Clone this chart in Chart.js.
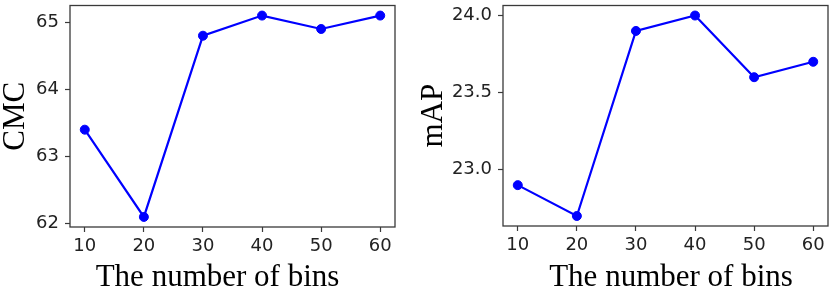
<!DOCTYPE html>
<html>
<head>
<meta charset="utf-8">
<script src="https://cdn.jsdelivr.net/npm/chart.js@4"></script>
<style>
  html, body { margin: 0; padding: 0; background: #fff; overflow: hidden; width: 832px; height: 295px; }
  canvas { position: absolute; top: 0; }
  #cmcChart { left: 0; }
  #mapChart { left: 418px; }
</style>
</head>
<body>
<canvas id="cmcChart" width="435" height="295"></canvas>
<canvas id="mapChart" width="506" height="295"></canvas>
<script>
const bins = [10, 20, 30, 40, 50, 60];
const cmcValues = [63.4, 62.1, 64.8, 65.1, 64.9, 65.1];
const mapValues = [22.9, 22.7, 23.9, 24.0, 23.6, 23.7];
const cmcTicks = [62, 63, 64, 65];
const mapTicks = [23.0, 23.5, 24.0];
const xLabel = 'The number of bins';

// draws the matplotlib style box round the plot area
const framePlugin = {
  id: 'frame',
  afterDraw(chart) {
    const a = chart.chartArea;
    const ctx = chart.ctx;
    ctx.save();
    ctx.strokeStyle = '#3a3a3a';
    ctx.lineWidth = 1.3;
    ctx.strokeRect(a.left, a.top, a.right - a.left, a.bottom - a.top);
    ctx.restore();
  }
};

function makeChart(id, values, yTicks, yTitle, cfg) {
  const ctx = document.getElementById(id).getContext('2d');
  return new Chart(ctx, {
    type: 'line',
    data: {
      datasets: [{
        data: bins.map((b, i) => ({ x: b, y: values[i] })),
        borderColor: '#0000ff',
        backgroundColor: '#0000ff',
        borderWidth: 2.2,
        pointRadius: 4.5,
        pointBorderWidth: 1,
        pointHoverRadius: 4.5,
        tension: 0,
        clip: false
      }]
    },
    options: {
      responsive: false,
      animation: false,
      layout: { padding: { top: 5, left: 0, right: 0, bottom: 0 } },
      plugins: {
        legend: { display: false },
        tooltip: { enabled: false },
        title: {
          display: true,
          position: 'bottom',
          text: xLabel,
          color: '#000',
          font: { family: 'Liberation Serif', size: 31, weight: 'normal', lineHeight: 1 },
          padding: { top: 0, bottom: 2 }
        }
      },
      scales: {
        x: {
          type: 'linear',
          min: 7.5,
          max: 62.5,
          afterBuildTicks: s => { s.ticks = bins.map(v => ({ value: v })); },
          afterFit: s => { s.height = cfg.xHeight; s.paddingLeft = 0; s.paddingRight = 0; },
          grid: { drawOnChartArea: false, tickLength: 5, color: '#3a3a3a', tickWidth: 1.2 },
          border: { display: false },
          ticks: {
            color: '#222',
            padding: 4,
            maxRotation: 0,
            font: { family: 'DejaVu Sans', size: 18 }
          }
        },
        y: {
          type: 'linear',
          min: cfg.min,
          max: cfg.max,
          afterBuildTicks: s => { s.ticks = yTicks.map(v => ({ value: v })); },
          afterFit: s => { s.width = cfg.yWidth; s.paddingTop = 0; s.paddingBottom = 0; },
          grid: { drawOnChartArea: false, tickLength: 5, color: '#3a3a3a', tickWidth: 1.2 },
          border: { display: false },
          ticks: {
            color: '#222',
            padding: 6,
            font: { family: 'DejaVu Sans', size: 18 },
            callback: v => cfg.fmt(v)
          },
          title: {
            display: true,
            text: yTitle,
            color: '#000',
            font: { family: 'Liberation Serif', size: 31, weight: 'normal', lineHeight: 1 },
            padding: 0
          }
        },
        // empty right axis, only keeps the gap to the canvas edge
        y2: {
          position: 'right',
          display: true,
          grid: { display: false },
          border: { display: false },
          ticks: { display: false },
          afterFit: s => { s.width = cfg.rightWidth; s.paddingTop = 0; s.paddingBottom = 0; }
        }
      }
    },
    plugins: [framePlugin]
  });
}

makeChart('cmcChart', cmcValues, cmcTicks, 'CMC', {
  min: 61.95, max: 65.25, yWidth: 70, rightWidth: 40, xHeight: 35,
  fmt: v => String(v)
});

makeChart('mapChart', mapValues, mapTicks, 'mAP', {
  min: 22.635, max: 24.065, yWidth: 85, rightWidth: 96, xHeight: 36,
  fmt: v => v.toFixed(1)
});
</script>
</body>
</html>
